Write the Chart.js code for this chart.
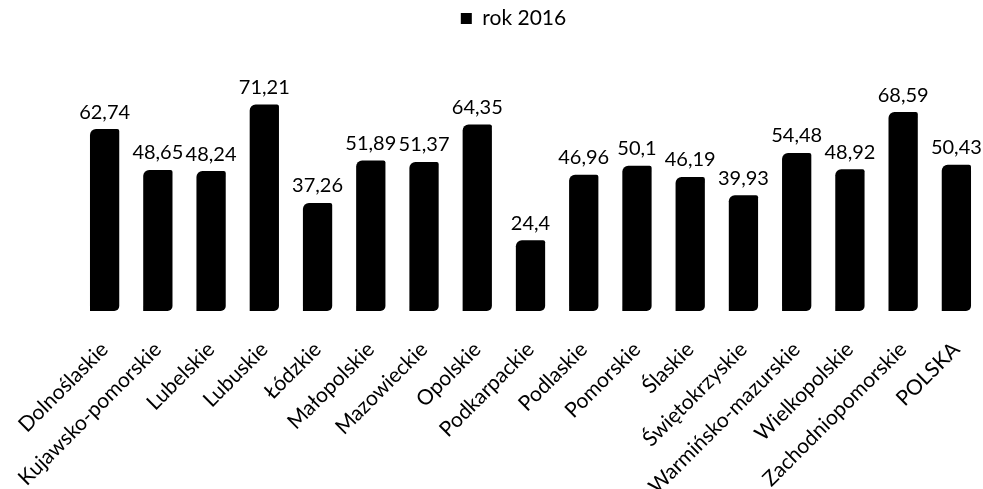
<!DOCTYPE html>
<html>
<head>
<meta charset="utf-8">
<script src="https://cdn.jsdelivr.net/npm/chart.js@4"></script>
<style>
  html, body { margin: 0; padding: 0; background: #fff; }
  #wrap { width: 983px; height: 489px; }
</style>
</head>
<body>
<div id="wrap"><canvas id="c"></canvas></div>
<script>
const regions = ['Dolnoślaskie', 'Kujawsko-pomorskie', 'Lubelskie', 'Lubuskie', 'Łódzkie',
    'Małopolskie', 'Mazowieckie', 'Opolskie', 'Podkarpackie', 'Podlaskie', 'Pomorskie',
    'Ślaskie', 'Świętokrzyskie', 'Warmińsko-mazurskie', 'Wielkopolskie',
    'Zachodniopomorskie', 'POLSKA'];
const values2016 = [62.74, 48.65, 48.24, 71.21, 37.26, 51.89, 51.37, 64.35, 24.4,
    46.96, 50.1, 46.19, 39.93, 54.48, 48.92, 68.59, 50.43];
const seriesName = 'rok 2016';

const FONT = 'Lato, "Open Sans", sans-serif';

// values above the bars, Polish decimal comma
const valueLabels = {
    id: 'valueLabels',
    afterDatasetsDraw(chart) {
        const ctx = chart.ctx;
        const meta = chart.getDatasetMeta(0);
        ctx.save();
        ctx.font = '20px ' + FONT;
        ctx.fillStyle = '#000';
        ctx.textAlign = 'center';
        ctx.textBaseline = 'bottom';
        meta.data.forEach((bar, i) => {
            const txt = String(values2016[i]).replace('.', ',');
            ctx.fillText(txt, bar.x, bar.y - 7);
        });
        ctx.restore();
    }
};

// gap under the legend; legend nudged left, category labels pushed down
const layoutTweaks = {
    id: 'layoutTweaks',
    beforeInit(chart) {
        const fit = chart.legend.fit;
        chart.legend.fit = function () {
            fit.call(this);
            this.height += 40;
        };
    },
    afterLayout(chart) {
        chart.legend.left -= 17;
        chart.legend.right -= 17;
        chart.scales.x.top += 14;
        chart.scales.x.bottom += 14;
    }
};

new Chart(document.getElementById('c'), {
    type: 'bar',
    data: {
        labels: regions,
        datasets: [{
            label: seriesName,
            data: values2016,
            backgroundColor: '#000',
            borderColor: '#000',
            borderWidth: 0,
            borderSkipped: false,
            borderRadius: { topLeft: 6, topRight: 2, bottomRight: 5, bottomLeft: 0 },
            barPercentage: 0.55,
            categoryPercentage: 1.0
        }]
    },
    options: {
        responsive: true,
        maintainAspectRatio: false,
        animation: false,
        layout: { padding: { left: 78, right: 0, top: 0, bottom: 0 } },
        scales: {
            y: {
                min: 0,
                max: 80,
                display: false
            },
            x: {
                grid: { display: false },
                border: { display: false },
                ticks: {
                    color: '#000',
                    font: { family: FONT, size: 21 },
                    minRotation: 45,
                    maxRotation: 45,
                    autoSkip: false,
                    padding: 4
                }
            }
        },
        plugins: {
            legend: {
                display: true,
                position: 'top',
                labels: {
                    color: '#000',
                    font: { family: FONT, size: 21 },
                    boxWidth: 11,
                    boxHeight: 11,
                    padding: 8
                }
            },
            tooltip: { enabled: false }
        }
    },
    plugins: [valueLabels, layoutTweaks]
});
</script>
</body>
</html>
